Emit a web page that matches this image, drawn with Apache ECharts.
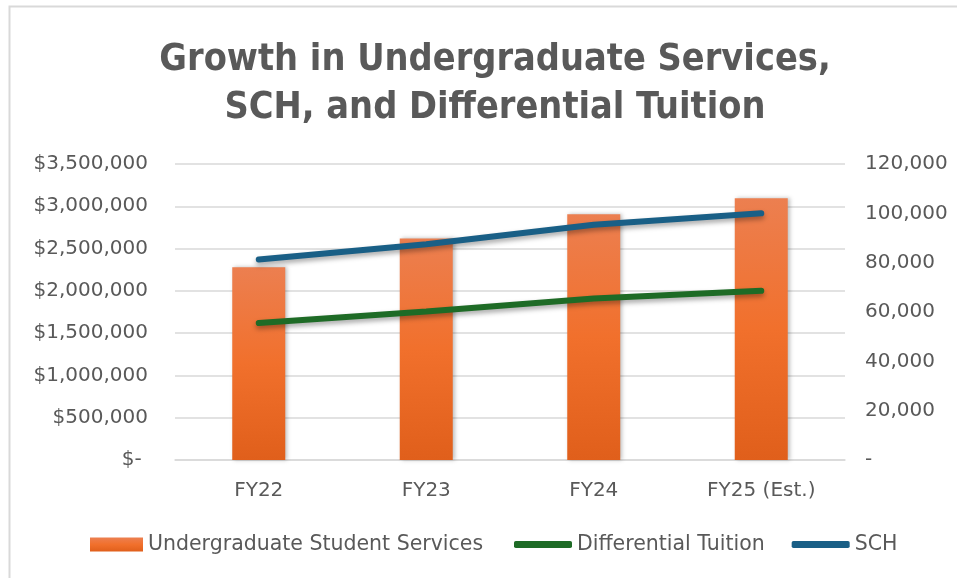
<!DOCTYPE html>
<html>
<head>
<meta charset="utf-8">
<script src="https://cdn.jsdelivr.net/npm/echarts@6/dist/echarts.min.js"></script>
<style>
  html, body { margin: 0; padding: 0; background: #fff; }
  #chart { width: 957px; height: 578px; }
</style>
</head>
<body>
<div id="chart"></div>
<script>
const categories = ['FY22', 'FY23', 'FY24', 'FY25 (Est.)'];
const studentServices = [2280000, 2620000, 2905000, 3095000];
const differentialTuition = [1620000, 1755000, 1910000, 2000000];
const sch = [81300, 87500, 95400, 100000];

const textColor = '#595959';
const labelFont = 'DejaVu Sans';

const chart = echarts.init(document.getElementById('chart'));

const money = (v) => (v === 0 ? '$- ' : '$' + v.toLocaleString('en-US'));
const plain = (v) => (v === 0 ? '-' : v.toLocaleString('en-US'));

chart.setOption({
  animation: false,
  backgroundColor: '#fff',
  title: {
    text: 'Growth in Undergraduate Services,\nSCH, and Differential Tuition',
    left: 490,
    top: 31,
    textAlign: 'center',
    textStyle: {
      fontFamily: '"Liberation Sans Narrow", "DejaVu Sans Condensed", "Liberation Sans"',
      fontWeight: 'bold',
      fontSize: 37.5,
      lineHeight: 48,
      color: textColor,
    },
  },
  graphic: [{
    type: 'rect',
    shape: { x: 9.5, y: 6.5, width: 1000, height: 1000 },
    style: { fill: 'none', stroke: '#d9d9d9', lineWidth: 2 },
    silent: true,
  }],
  legend: [{
    data: ['Undergraduate Student Services'],
    left: 85,
    top: 529,
    itemWidth: 53,
    itemHeight: 14,
    icon: 'rect',
    textStyle: { color: textColor, fontSize: 20.5, fontFamily: labelFont },
  }, {
    data: ['Differential Tuition', 'SCH'],
    left: 509,
    top: 529,
    itemWidth: 58,
    itemHeight: 7,
    itemGap: 27,
    icon: 'roundRect',
    textStyle: { color: textColor, fontSize: 20.5, fontFamily: labelFont },
  }],
  grid: { left: 175, right: 112, top: 164, bottom: 118 },
  xAxis: {
    type: 'category',
    data: categories,
    axisLine: { lineStyle: { color: '#d9d9d9', width: 1.5 } },
    axisTick: { show: false },
    axisLabel: { color: textColor, fontSize: 20, fontFamily: labelFont, margin: 21 },
  },
  yAxis: [{
    type: 'value',
    min: 0,
    max: 3500000,
    interval: 500000,
    axisLine: { show: false },
    axisTick: { show: false },
    splitLine: { lineStyle: { color: '#d9d9d9', width: 1.5 } },
    axisLabel: { color: textColor, fontSize: 20, fontFamily: labelFont, margin: 27, formatter: money },
  }, {
    type: 'value',
    min: 0,
    max: 120000,
    interval: 20000,
    axisLine: { show: false },
    axisTick: { show: false },
    splitLine: { show: false },
    axisLabel: { color: textColor, fontSize: 20, fontFamily: labelFont, margin: 20, formatter: plain },
  }],
  series: [{
    name: 'Undergraduate Student Services',
    type: 'bar',
    barWidth: 53,
    data: studentServices,
    itemStyle: {
      color: new echarts.graphic.LinearGradient(0, 0, 0, 1, [
        { offset: 0, color: '#ec7f50' },
        { offset: 0.5, color: '#f1702c' },
        { offset: 1, color: '#e05f1b' },
      ]),
      shadowColor: 'rgba(0,0,0,0.25)',
      shadowBlur: 4,
      shadowOffsetX: 2,
    },
  }, {
    name: 'Differential Tuition',
    type: 'line',
    yAxisIndex: 0,
    data: differentialTuition,
    symbol: 'none',
    color: '#1e6b26',
    lineStyle: {
      width: 6,
      cap: 'round',
      color: '#1e6b26',
      shadowColor: 'rgba(0,0,0,0.35)',
      shadowBlur: 5,
      shadowOffsetY: 3,
    },
  }, {
    name: 'SCH',
    type: 'line',
    yAxisIndex: 1,
    data: sch,
    symbol: 'none',
    color: '#195f86',
    lineStyle: {
      width: 6,
      cap: 'round',
      color: '#195f86',
      shadowColor: 'rgba(0,0,0,0.35)',
      shadowBlur: 5,
      shadowOffsetY: 3,
    },
  }],
});
</script>
</body>
</html>
